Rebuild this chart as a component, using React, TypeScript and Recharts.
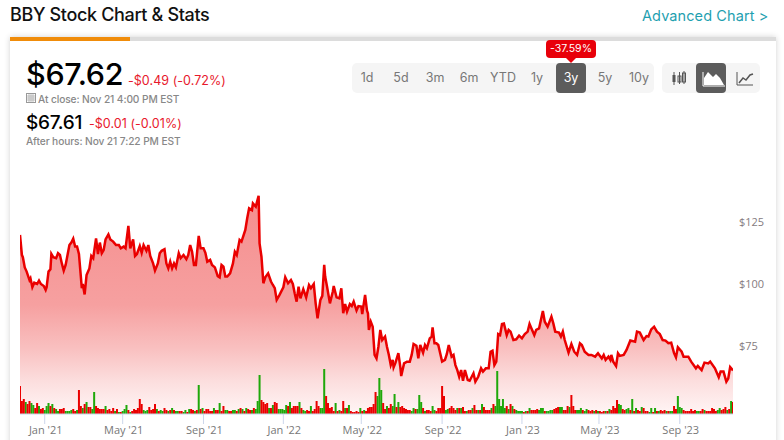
import React from "react";
import { ComposedChart, Area, Bar, XAxis, YAxis } from "recharts";

const priceDays = [0,2,3,5,7,10,11,13,15,18,20,22,25,27,28,30,32,33,35,38,40,42,44,46,48,50,52,54,56,58,60,62,64,65,66,68,70,73,75,77,80,82,84,86,88,90,93,95,98,101,104,106,109,111,114,116,119,121,123,126,128,130,133,135,137,140,142,145,147,149,152,154,156,158,160,162,164,167,169,172,175,177,179,181,183,185,188,190,193,195,197,200,202,205,208,210,212,214,216,218,221,224,226,228,231,233,237,239,241,244,245,248,251,252,254,256,258,261,264,266,268,270,273,277,279,282,285,287,289,291,293,295,298,301,304,306,309,311,313,316,318,320,321,323,326,329,330,333,336,338,340,342,344,347,349,351,354,356,359,360,363,365,366,367,369,371,373,375,377,379,381,384,386,388,390,392,393,395,398,400,401,404,407,410,412,414,417,419,421,424,426,428,431,433,434,436,438,440,442,444,447,449,451,454,456,458,460,462,464,466,468,471,473,477,479,482,485,487,490,493,495,497,499,501,503,505,507,509,512,514,516,519,522,525,528,531,534,536,538,541,543,546,550,552,555,559,561,563,567,569,571,573,577,580,583,586,589,591,594,598,601,605,608,612,614,616,619,621,622,624,627,629,631,635,638,642,647,649,652,656,659,661,664,667,670,673,676,679,682,685,688,690,692,696,698,703,706,711,713,717,720,724,726,731,735,737,740,743,745,747,750];

const priceValues = [119.8,111.7,110.8,106.7,105,101.6,102.3,98.7,100.5,100,101.4,100,99.2,97.6,98.7,105,105.9,112.1,110.8,110.4,112.4,111.7,108.3,105.4,107.7,111.7,115.7,116.7,118.3,115.1,115.1,112.1,103,98.3,100,95.8,103.6,106.3,111.3,110.4,118.4,112.1,116.7,112.4,113.7,118,120,118,117.1,115.7,115.7,114.4,115.1,114.4,123.4,114.4,118,111.3,112.1,115.3,112.6,115.7,113.4,115.7,111.3,108.3,105.4,108.3,112.4,113.4,114,108.3,106.3,109,106.3,108.3,106.7,112.4,110.4,111.7,110,111.7,115.7,113,107.7,107.7,119.4,114.4,114.4,112.6,109,109.7,107.7,106.7,103.2,102.7,107.7,107,103,103,104.3,108.3,113,111.7,117.8,117.1,121.8,126.5,130.5,129.8,132.5,131.2,135.6,116.4,111,100.3,102.7,104.3,101,99.6,98.3,93.6,95.6,98.7,102.7,100.3,101.6,100,96.2,92.9,98.9,94.2,97.9,94.6,99.6,98.3,100,92.2,86.2,93.6,95.2,107.7,103,98.9,92.2,96.9,99.2,94.6,94.2,98.3,88.2,91.9,88.9,91.9,91.1,92.9,89.3,91.1,90.9,87.9,95.6,89.3,88.2,81.5,84.8,82.8,71.4,70,74.7,81.5,77.4,78.8,74.7,71.4,67.3,69.4,66.4,68.3,72.1,66.7,62.9,68,68.7,68.7,71.4,75.8,75.1,70,75.4,72.3,75.4,74.1,78.1,78.8,82.5,76.1,76.1,75.4,72.1,68.7,69.4,71.8,75.4,70.7,71.4,67.3,65.3,62.6,65.3,61,65.3,61.3,61,64,60.6,62.6,66,64.7,66,66,72.7,73.1,67.3,68.7,79.8,79.4,83.9,84.1,79.4,81.5,80.8,77.4,77.7,79.2,78.1,79.8,80.8,83.9,82.1,79.4,81.5,82.1,89.1,84.8,82.8,86.8,84.1,80.8,80.4,78.8,80.8,77.4,72.3,75.8,72.7,71.4,76.1,75.4,72.7,71.4,71.4,70.7,72.1,70,71.4,69.4,70.7,69.4,71.4,68.7,66.9,72.1,71,71.4,73.4,77.2,76.7,80.8,80.4,77.4,79,78.8,81.7,82.8,80.8,79.8,77.4,77.2,76.1,76.3,72.1,70.4,74.5,72.7,70.7,70.7,68.7,66,67,65.3,68.3,68,68.7,66,62.4,64.7,64.7,60.6,61.9,66.5,65.1];

// One entry per two sessions, in millions of shares; negative entries are down sessions (red).
const signedVolumes = [
-5.6,-2.6,-3,2.4,-2,-2.6,2.2,1.8,-1.2,-2.2,1.6,-1,-1.2,0.8,1.6,2.2,-1.6,2,-1.2,1,0.6,-1,-1,-1.2,0.6,0.6,0.6,0.8,-1,-0.6,0.8,-4.8,-1.6,1.2,-2,2.4,-1.4,-1.4,1,4.4,-1.6,-1.2,-1,-1,-1,1.6,-0.8,-1,-0.6,-1.2,0.6,-1,0.4,-0.4,0.6,1,1.8,-0.8,0.4,-0.6,-1,-0.8,-1.2,-3,-2,0.8,0.6,
0.8,-1.4,-0.8,-1,-2,1,-0.6,0.8,0.6,-1.2,-0.8,0.6,-0.8,1.2,-0.8,0.6,0.6,-0.6,-0.6,0.4,0.8,-0.4,1,-1,-0.8,0.6,-0.8,5.8,-1,1.2,-0.6,-1,-1,-0.6,-0.6,1.2,-0.8,-0.8,2.2,-0.6,-1.6,0.8,0.8,-0.6,-0.6,0.8,0.8,-0.6,1,-1.2,1,-0.6,1.2,-1,-0.8,0.8,-1.2,1,2.6,7.8,-2.8,-2.4,-2,-2.2,1.2,-1.2,1.8,-2.4,-2.2,
1,1,1,0.8,1.8,-1.6,2.4,-1.2,-1.6,-1.6,-1.6,2.4,-1.2,0.8,0.6,-0.8,-0.6,1.6,-0.6,-1,-2.6,-1.6,1.2,1.2,9,-3.6,-2.2,-1.2,-1.4,-0.6,2.2,-0.6,0.8,-0.6,-2.6,1.2,-1.2,1.8,-0.6,-0.4,-0.4,-0.6,-0.4,1.2,-0.6,0.8,-0.6,-1.2,-1.4,-1.4,-2,-4.4,3.6,7.2,4.8,-2.2,-1,1.6,-1.2,-2,1.6,4,-1.4,2.4,-1.4,-1.6,-1.2,-1,
-0.8,-0.8,0.6,1.2,-1,1,3.8,2.4,-1.2,0.6,-0.8,-0.8,-0.6,1.6,0.8,-0.6,-1.2,-1.2,-5.6,-3.6,0.8,1,-1.2,-1.6,-1.2,-0.8,1.2,-1.2,1.2,-1.4,-0.6,0.6,-0.8,-0.8,1.2,-1.8,-0.8,0.8,-0.8,2,-1.4,-0.8,-0.8,-0.8,1.2,-2,1.6,8.6,3,1.6,3,1.2,-1.6,1,-2,1.6,-1,0.8,0.6,0.6,0.6,-0.4,0.6,-0.6,1.2,-0.8,-0.8,-0.8,-1,
0.8,1.2,1.2,-0.6,0.6,0.6,0.8,0.8,-1,-1.2,-1.4,1.4,1.4,-0.8,-0.8,-1.6,1.4,-3.8,-1.6,-0.8,0.8,0.8,1.2,-0.8,0.6,1,-0.8,-0.6,-0.8,0.6,-0.8,0.6,-0.6,-0.4,-0.6,0.6,-0.6,1,-0.8,-1.6,-1.2,-2.8,2,1.8,-1,-0.8,1,1.2,-0.8,3,-0.6,1.2,-0.8,-0.6,1.4,-1.2,-0.6,-0.6,0.4,1.2,-0.4,1.2,-0.6,0.6,-0.8,-0.6,-0.8,0.6,
-0.6,0.6,0.6,-1.6,-1,3.6,1.4,1.2,-0.8,-0.6,-0.6,-0.6,-1,-0.6,-0.8,0.6,0.6,-0.6,-1,0.8,-0.6,-0.6,-0.6,-1.2,-1,-0.6,0.8,1.2,-0.8,-1,-1.4,0.8,-1,2.6,-2.4];

const tickDays = [26, 108, 193, 277, 359, 444, 528, 609, 694];
const tickLabels = ["Jan '21", "May '21", "Sep '21", "Jan '22", "May '22", "Sep '22", "Jan '23", "May '23", "Sep '23"];
const priceTicks = [75, 100, 125];
const rangeLabels = ["1d", "5d", "3m", "6m", "YTD", "1y", "3y", "5y", "10y"];

type Row = { day: number; price?: number; up?: number; down?: number };
const byDay = new Map<number, Row>();
const rowFor = (day: number): Row => {
  let r = byDay.get(day);
  if (!r) { r = { day }; byDay.set(day, r); }
  return r;
};
priceDays.forEach((d, i) => { rowFor(d).price = priceValues[i]; });
signedVolumes.forEach((v, i) => {
  const r = rowFor(i * 2);
  if (v >= 0) r.up = v; else r.down = -v;
});
const rows = [...byDay.values()].sort((a, b) => a.day - b.day);

const UI = "Inter, 'Noto Sans', sans-serif";
const AX = "'Open Sans', sans-serif";

const T = ({ x, y, size, color, weight = 400, children, ls = 0 }: any) => (
  <div style={{ position: "absolute", left: x, top: y, fontFamily: UI, fontSize: size, color, fontWeight: weight, letterSpacing: ls, lineHeight: 1, whiteSpace: "nowrap" }}>{children}</div>
);

// The day axis is dense, so the library's band is narrower than a two-session bar: widen it here.
const WideBar = (p: any) =>
  p.height > 0 ? <rect x={p.x + p.width / 2 - 1} y={p.y} width={2} height={p.height} fill={p.fill} /> : null;

export default function App() {
  return (
    <div style={{ position: "absolute", left: 0, top: 0, width: 784, height: 440, overflow: "hidden", background: "#fff" }}>
      <div style={{ position: "absolute", left: 10, top: 37, width: 766, height: 420, background: "#fff", boxShadow: "0 0 6px rgba(0,0,0,0.18)" }} />
      <div style={{ position: "absolute", left: 10, top: 37, width: 766, height: 4, background: "#dcdcdc" }} />
      <div style={{ position: "absolute", left: 10, top: 37, width: 120, height: 4, background: "#f08c0a" }} />

      <T x={10} y={6} size={18} color="#111" weight={500} ls={-0.35}>BBY Stock Chart &amp; Stats</T>
      <T x={642} y={9} size={14.5} color="#1f9fb0" weight={400} ls={0.1}>Advanced Chart &gt;</T>

      <T x={26} y={59} size={30.5} color="#000" weight={500} ls={-0.3}>$67.62</T>
      <T x={128} y={75} size={12.5} color="#e8182c" ls={0.05}>-$0.49 (-0.72%)</T>
      <svg style={{ position: "absolute", left: 26, top: 92 }} width={10} height={11} viewBox="0 0 10 11">
        <rect x={0.5} y={1.5} width={9} height={9} fill="none" stroke="#999" />
        <path d="M0.5 4H9.5M0.5 6H9.5M0.5 8H9.5M3 1.5V10.5M5 1.5V10.5M7 1.5V10.5" stroke="#999" strokeWidth={0.6} />
      </svg>
      <T x={38} y={94} size={10.2} color="#888" weight={500} ls={-0.1}>At close: Nov 21 4:00 PM EST</T>
      <T x={26} y={113} size={19} color="#000" weight={500} ls={-0.3}>$67.61</T>
      <T x={89} y={118} size={12.5} color="#e8182c" ls={0.05}>-$0.01 (-0.01%)</T>
      <T x={26} y={136} size={10.2} color="#888" weight={500} ls={-0.1}>After hours: Nov 21 7:22 PM EST</T>

      <div style={{ position: "absolute", left: 352, top: 63, width: 302, height: 30, background: "#f5f5f5", borderRadius: 5 }} />
      <div style={{ position: "absolute", left: 556, top: 63, width: 30, height: 30, background: "#5c5c5c", borderRadius: 4 }} />
      {rangeLabels.map((l, i) => (
        <div key={l} style={{ position: "absolute", left: 350 + i * 34, top: 63, width: 34, height: 30, lineHeight: "30px", textAlign: "center", fontFamily: UI, fontSize: 12.5, color: l === "3y" ? "#fff" : "#777" }}>{l}</div>
      ))}
      <div style={{ position: "absolute", left: 546, top: 40, width: 50, height: 18, background: "#e8000a", borderRadius: 4, lineHeight: "18px", textAlign: "center", fontFamily: UI, fontSize: 10.5, color: "#fff" }}>-37.59%</div>
      <svg style={{ position: "absolute", left: 565, top: 57 }} width={12} height={7}><path d="M0 0H12L6 6Z" fill="#e8000a" /></svg>

      <div style={{ position: "absolute", left: 662, top: 63, width: 98, height: 30, background: "#f5f5f5", borderRadius: 5 }} />
      <div style={{ position: "absolute", left: 696, top: 63, width: 30, height: 30, background: "#5c5c5c", borderRadius: 4 }} />
      <svg style={{ position: "absolute", left: 662, top: 63 }} width={98} height={30} viewBox="0 0 98 30">
        <path d="M12 9V22M17.5 9V21M22 8V21" stroke="#555" strokeWidth={1} />
        <rect x={10.5} y={12} width={3} height={7} fill="#555" />
        <rect x={16} y={13} width={3} height={6} fill="none" stroke="#555" />
        <rect x={20.5} y={10} width={3} height={9} fill="none" stroke="#555" />
        <path d="M41 9V23H63" fill="none" stroke="#fff" strokeWidth={1} />
        <path d="M42 22V15L46 9L51 14L54 11L58 15L62 22Z" fill="#fff" />
        <path d="M75 9V22H91" fill="none" stroke="#555" strokeWidth={1} />
        <path d="M77 20L81 15L84 17L88 12L91 11" fill="none" stroke="#555" strokeWidth={1.5} />
      </svg>

      <div style={{ position: "absolute", left: 0, top: 0 }}>
        <ComposedChart width={784} height={440} data={rows} margin={{ top: 186, right: 0, bottom: 0, left: 20 }}>
          <defs>
            <linearGradient id="priceFill" x1="0" y1="0" x2="0" y2="1">
              <stop offset="0%" stopColor="#f58e8e" />
              <stop offset="50%" stopColor="#f6a0a0" />
              <stop offset="70%" stopColor="#f9c0c0" />
              <stop offset="85%" stopColor="#fcdede" />
              <stop offset="100%" stopColor="#fff5f5" />
            </linearGradient>
          </defs>
          <XAxis dataKey="day" type="number" domain={[0, 750]} ticks={tickDays} allowDataOverflow height={26}
            interval={0}
            tickFormatter={(d: number) => tickLabels[tickDays.indexOf(d)]}
            stroke="#ccd6eb" tickSize={10} tickMargin={2}
            tick={{ fill: "#777", fontSize: 11, fontFamily: AX, dx: 1 }} />
          <YAxis yAxisId="price" orientation="right" domain={[47.58, 139.52]} ticks={priceTicks} width={51}
            axisLine={false} tickLine={false} tickSize={0} tickMargin={6} allowDataOverflow
            tickFormatter={(v: number) => "$" + v}
            tick={{ fill: "#857b80", fontSize: 11, fontFamily: AX, textAnchor: "start" }} />
          <YAxis yAxisId="volume" hide domain={[0, 45.6]} allowDataOverflow />
          <Area yAxisId="price" dataKey="price" type="linear" connectNulls stroke="#ea0000" strokeWidth={2.5}
            fill="url(#priceFill)" fillOpacity={1} dot={false} activeDot={false} isAnimationActive={false} />
          <Bar yAxisId="volume" dataKey="up" stackId="v" fill="#1fa80a" shape={WideBar} isAnimationActive={false} />
          <Bar yAxisId="volume" dataKey="down" stackId="v" fill="#ea0000" shape={WideBar} isAnimationActive={false} />
        </ComposedChart>
      </div>
    </div>
  );
}
